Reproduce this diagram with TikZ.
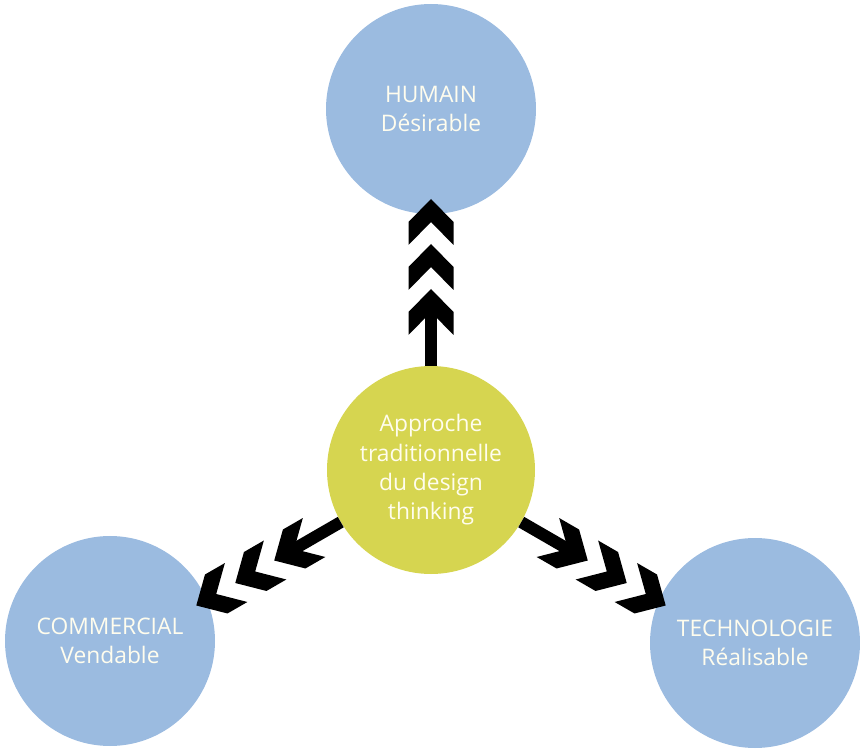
\documentclass[tikz,border=0pt]{standalone}
\usepackage{fontspec}
\setmainfont{Open Sans}
\usepackage{xcolor}
\usetikzlibrary{calc,decorations.markings}

\definecolor{sky}{RGB}{155,187,224}
\definecolor{lime}{RGB}{214,213,80}
\definecolor{cream}{RGB}{255,253,238}

% one chevron, tip at the origin, pointing along +x
\newcommand\chevtip{\fill (0,0) -- (-23,22.5) -- (-46,22.5) -- (-23,0)
  -- (-46,-22.5) -- (-23,-22.5) -- cycle;}

\begin{document}
\begin{tikzpicture}[x=1pt, y=1pt,
  goal/.style={circle, fill=sky, minimum size=210pt, inner sep=0pt,
    align=center, text=cream, font=\fontsize{22.8}{29.3}\selectfont},
  core/.style={goal, fill=lime, minimum size=208pt},
  stem/.style={line width=12pt, shorten >=100pt},
  chevs/.style={decorate, decoration={markings,
    mark=at position -90pt with {\chevtip},
    mark=at position -45pt with {\chevtip},
    mark=at position 1 with {\chevtip}}},
]
  \useasboundingbox (0,0) rectangle (860,748);

  % Circles
  \node[goal] (hum) at (431,639) {HUMAIN\\Désirable};
  \node[core] (mid) at (431,278) {Approche\\traditionnelle\\du design\\thinking};
  \node[goal] (com) at (110,107) {COMMERCIAL\\Vendable};
  \node[goal] (tec) at (755,105) {TECHNOLOGIE\\Réalisable};

  % Chevron arrows out of the centre
  \foreach \ang/\nm in {90/hum, -30/tec, 210/com} {
    \coordinate (tip-\nm) at ($(mid.center)+(\ang:271)$);
    \draw[stem, postaction={chevs}] (mid) -- (tip-\nm);
  }
\end{tikzpicture}
\end{document}
